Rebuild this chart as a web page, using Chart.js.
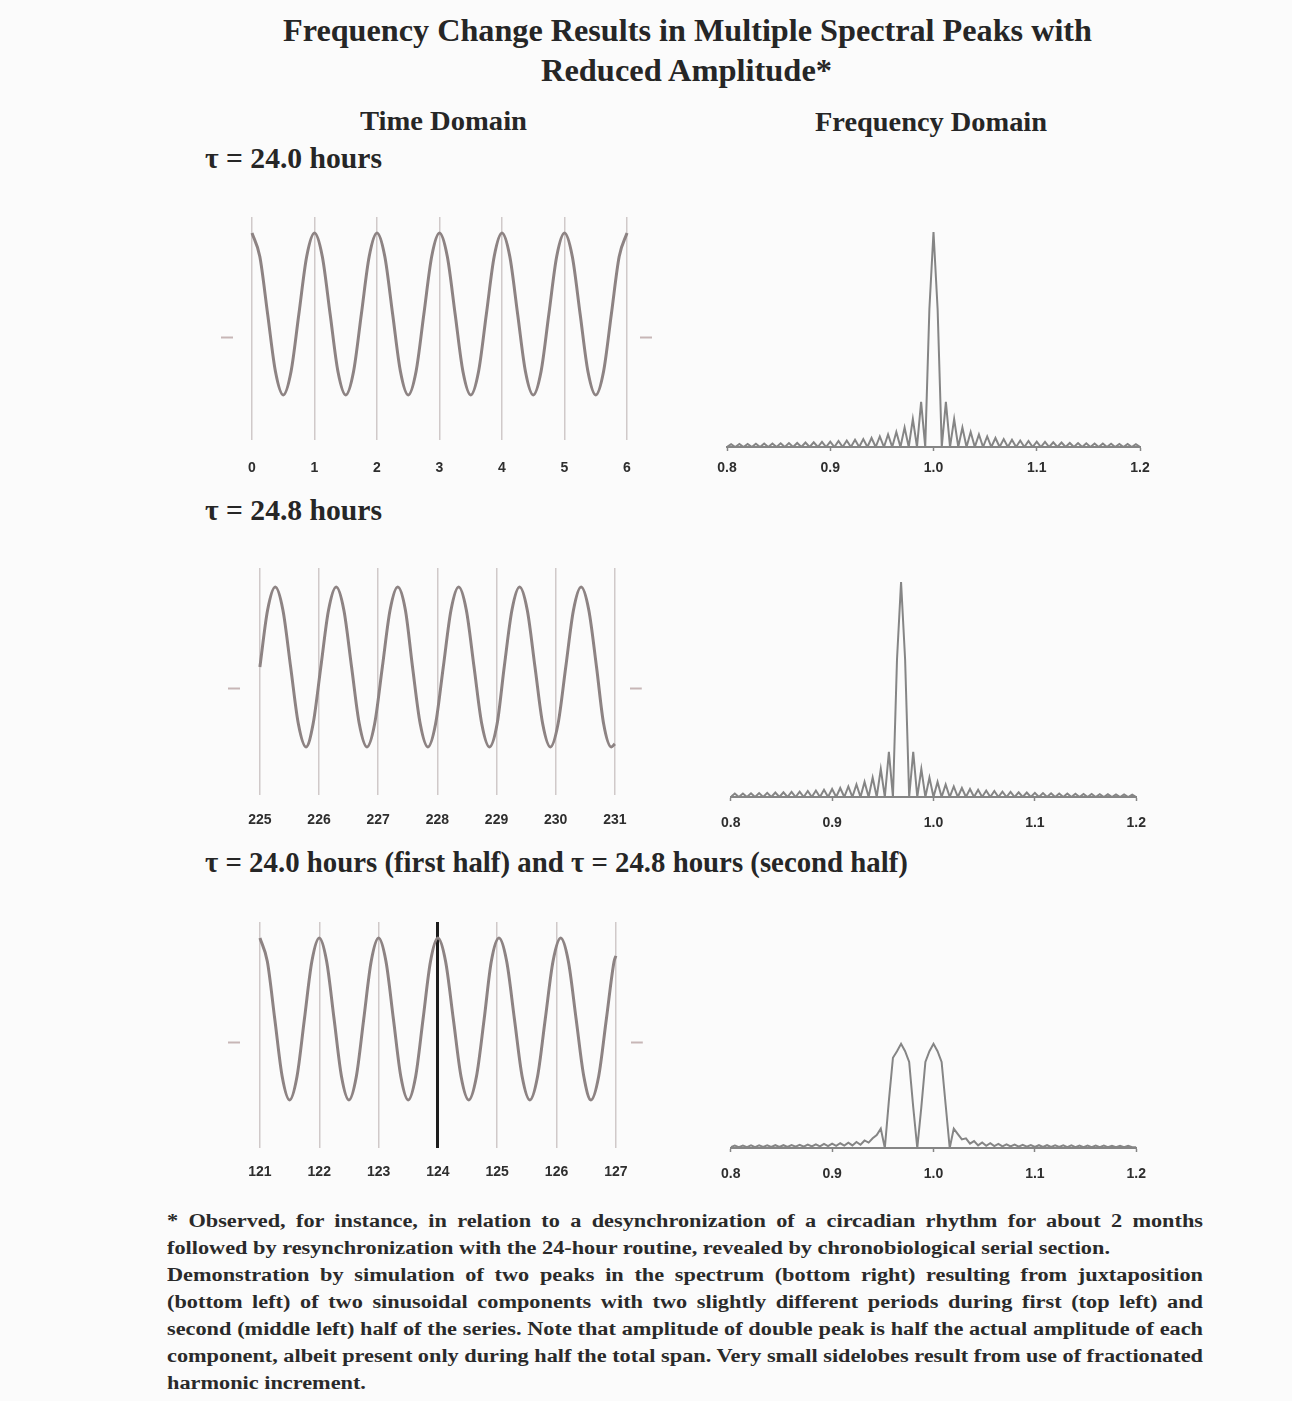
<!DOCTYPE html>
<html><head><meta charset="utf-8">
<script src="https://cdn.jsdelivr.net/npm/chart.js@4.4.1/dist/chart.umd.min.js"></script>
<style>
html,body{margin:0;padding:0;background:#fbfbfb;}
body{width:1292px;height:1401px;position:relative;overflow:hidden;font-family:"Liberation Serif","Times New Roman",Tinos,serif;color:#262626;}
.t{position:absolute;white-space:nowrap;font-weight:bold;font-family:"Liberation Serif","Times New Roman",serif;}
canvas{position:absolute;}
.fn{position:absolute;left:167px;font-size:18px;line-height:27px;font-weight:bold;white-space:nowrap;color:#2a2a2a;font-family:"Liberation Serif","Times New Roman",serif;}
</style></head><body>
<div class="t" data-w="809" data-cx="687.5" style="top:10px;font-size:32px;line-height:40px;">Frequency Change Results in Multiple Spectral Peaks with</div>
<div class="t" data-w="291" data-cx="686.5" style="top:50px;font-size:32px;line-height:40px;">Reduced Amplitude*</div>
<div class="t" data-w="167" data-cx="443.5" style="top:104px;font-size:28px;line-height:34px;">Time Domain</div>
<div class="t" data-w="232" data-cx="931" style="top:105px;font-size:28px;line-height:34px;">Frequency Domain</div>
<div class="t" data-w="177" style="left:205px;top:141px;font-size:29px;line-height:34px;">τ = 24.0 hours</div>
<div class="t" data-w="177" style="left:205px;top:493px;font-size:29px;line-height:34px;">τ = 24.8 hours</div>
<div class="t" data-w="703" style="left:205px;top:845px;font-size:29px;line-height:34px;">τ = 24.0 hours (first half) and τ = 24.8 hours (second half)</div>

<canvas id="time1"></canvas>
<canvas id="freq1"></canvas>
<canvas id="time2"></canvas>
<canvas id="freq2"></canvas>
<canvas id="time3"></canvas>
<canvas id="freq3"></canvas>

<div class="fn" data-j="1" style="top:1208px;">* Observed, for instance, in relation to a desynchronization of a circadian rhythm for about 2 months</div>
<div class="fn" data-ref="943" style="top:1235px;">followed by resynchronization with the 24-hour routine, revealed by chronobiological serial section.</div>
<div class="fn" data-j="1" style="top:1262px;">Demonstration by simulation of two peaks in the spectrum (bottom right) resulting from juxtaposition</div>
<div class="fn" data-j="1" style="top:1289px;">(bottom left) of two sinusoidal components with two slightly different periods during first (top left) and</div>
<div class="fn" data-j="1" style="top:1316px;">second (middle left) half of the series. Note that amplitude of double peak is half the actual amplitude of each</div>
<div class="fn" data-j="1" style="top:1343px;">component, albeit present only during half the total span. Very small sidelobes result from use of fractionated</div>
<div class="fn" style="top:1370px;">harmonic increment.</div>

<script>
// ---------------- DATA ----------------
// Time domain, tau = 24.0 h (days 0-6)
const day24Times = [0,0.125,0.25,0.375,0.5,0.625,0.75,0.875,
  1,1.125,1.25,1.375,1.5,1.625,1.75,1.875,
  2,2.125,2.25,2.375,2.5,2.625,2.75,2.875,
  3,3.125,3.25,3.375,3.5,3.625,3.75,3.875,
  4,4.125,4.25,4.375,4.5,4.625,4.75,4.875,
  5,5.125,5.25,5.375,5.5,5.625,5.75,5.875,
  6];
const day24Values = [1,0.71,0,-0.71,-1,-0.71,0,0.71,
  1,0.71,0,-0.71,-1,-0.71,0,0.71,
  1,0.71,0,-0.71,-1,-0.71,0,0.71,
  1,0.71,0,-0.71,-1,-0.71,0,0.71,
  1,0.71,0,-0.71,-1,-0.71,0,0.71,
  1,0.71,0,-0.71,-1,-0.71,0,0.71,
  1];
const day24Ticks = [0,1,2,3,4,5,6];

// Time domain, tau = 24.8 h (days 225-231)
const day248Times = [225.00,225.13,225.26,225.39,225.52,225.65,225.78,225.90,
  226.03,226.16,226.29,226.42,226.55,226.68,226.81,226.94,
  227.07,227.20,227.33,227.46,227.58,227.71,227.84,227.97,
  228.10,228.23,228.36,228.49,228.62,228.75,228.88,229.01,
  229.13,229.26,229.39,229.52,229.65,229.78,229.91,230.04,
  230.17,230.30,230.43,230.56,230.69,230.81,230.94,231.00];
const day248Values = [0,0.71,1,0.71,0,-0.71,-1,-0.71,
  0,0.71,1,0.71,0,-0.71,-1,-0.71,
  0,0.71,1,0.71,0,-0.71,-1,-0.71,
  0,0.71,1,0.71,0,-0.71,-1,-0.71,
  0,0.71,1,0.71,0,-0.71,-1,-0.71,
  0,0.71,1,0.71,0,-0.71,-1,-0.96];
const day248Ticks = [225,226,227,228,229,230,231];

// Time domain, 24.0 h first half, 24.8 h second half (days 121-127)
const mixedTimes = [121,121.125,121.25,121.375,121.5,121.625,121.75,121.875,
  122,122.125,122.25,122.375,122.5,122.625,122.75,122.875,
  123,123.125,123.25,123.375,123.5,123.625,123.75,123.875,
  124,124.13,124.26,124.39,124.52,124.65,124.78,124.90,
  125.03,125.16,125.29,125.42,125.55,125.68,125.81,125.94,
  126.07,126.20,126.33,126.46,126.58,126.71,126.84,126.97,127.00];
const mixedValues = [1,0.71,0,-0.71,-1,-0.71,0,0.71,
  1,0.71,0,-0.71,-1,-0.71,0,0.71,
  1,0.71,0,-0.71,-1,-0.71,0,0.71,
  1,0.71,0,-0.71,-1,-0.71,0,0.71,
  1,0.71,0,-0.71,-1,-0.71,0,0.71,
  1,0.71,0,-0.71,-1,-0.71,0,0.71,0.78];
const mixedTicks = [121,122,123,124,125,126,127];
const splitDay = 124;

// Frequency domain (cycles/day)
const freqGrid = [0.800,0.804,0.808,0.812,0.816,0.820,0.824,0.828,0.832,0.836,
  0.840,0.844,0.848,0.852,0.856,0.860,0.864,0.868,0.872,0.876,
  0.880,0.884,0.888,0.892,0.896,0.900,0.904,0.908,0.912,0.916,
  0.920,0.924,0.928,0.932,0.936,0.940,0.944,0.948,0.952,0.956,
  0.960,0.964,0.968,0.972,0.976,0.980,0.984,0.988,0.992,0.996,
  1.000,1.004,1.008,1.012,1.016,1.020,1.024,1.028,1.032,1.036,
  1.040,1.044,1.048,1.052,1.056,1.060,1.064,1.068,1.072,1.076,
  1.080,1.084,1.088,1.092,1.096,1.100,1.104,1.108,1.112,1.116,
  1.120,1.124,1.128,1.132,1.136,1.140,1.144,1.148,1.152,1.156,
  1.160,1.164,1.168,1.172,1.176,1.180,1.184,1.188,1.192,1.196,
  1.200];
const freqTicks = [0.8,0.9,1.0,1.1,1.2];
const freqTickLabels = ['0.8','0.9','1.0','1.1','1.2'];

const spectrum24 = [0,0.013,0,0.014,0,0.014,0,0.015,0,0.016,
  0,0.016,0,0.017,0,0.018,0,0.019,0,0.021,
  0,0.022,0,0.024,0,0.025,0,0.028,0,0.03,
  0,0.034,0,0.037,0,0.042,0,0.049,0,0.058,
  0,0.07,0,0.09,0,0.13,0,0.21,0,0.64,
  1,0.64,0,0.21,0,0.13,0,0.09,0,0.07,
  0,0.058,0,0.049,0,0.042,0,0.037,0,0.034,
  0,0.03,0,0.028,0,0.025,0,0.024,0,0.022,
  0,0.021,0,0.019,0,0.018,0,0.017,0,0.016,
  0,0.016,0,0.015,0,0.014,0,0.014,0,0.013,
  0];
const spectrum248 = [0,0.016,0,0.016,0,0.017,0,0.018,0,0.019,
  0,0.021,0,0.022,0,0.024,0,0.025,0,0.028,
  0,0.03,0,0.034,0,0.037,0,0.042,0,0.049,
  0,0.058,0,0.07,0,0.09,0,0.13,0,0.21,
  0,0.64,1,0.64,0,0.21,0,0.13,0,0.09,
  0,0.07,0,0.058,0,0.049,0,0.042,0,0.037,
  0,0.034,0,0.03,0,0.028,0,0.025,0,0.024,
  0,0.022,0,0.021,0,0.019,0,0.018,0,0.017,
  0,0.016,0,0.016,0,0.015,0,0.014,0,0.014,
  0,0.013,0,0.0125,0,0.012,0,0.0116,0,0.011,
  0];
const spectrumMixed = [0.004,0.011,0.004,0.011,0.004,0.012,0.004,0.012,0.005,0.012,
  0.005,0.013,0.005,0.013,0.005,0.014,0.006,0.015,0.006,0.016,
  0.007,0.017,0.008,0.019,0.009,0.02,0.01,0.022,0.011,0.025,
  0.012,0.028,0.015,0.035,0.025,0.045,0.06,0.09,0,0.22,
  0.42,0.45,0.485,0.45,0.40,0.19,0,0.19,0.40,0.45,
  0.485,0.45,0.40,0.2,0,0.09,0.065,0.04,0.045,0.02,
  0.032,0.012,0.026,0.01,0.022,0.009,0.019,0.008,0.017,0.007,
  0.016,0.006,0.015,0.006,0.014,0.005,0.013,0.005,0.013,0.005,
  0.012,0.005,0.012,0.004,0.012,0.004,0.011,0.004,0.011,0.004,
  0.011,0.004,0.011,0.004,0.01,0.004,0.01,0.004,0.01,0.004,
  0.004];

// ---------------- STYLE / LAYOUT ----------------
const GRID = 'rgba(165,152,152,0.5)';
const CURVE = '#8d8383';
const SPEC = '#858585';
const LABEL = '#2e2e2e';
const tickFont = {family:"'Liberation Sans', Arial, sans-serif", size:14, weight:'bold'};

function place(cv, left, top, w, h){
  cv.width = w; cv.height = h;
  cv.style.left = left + 'px'; cv.style.top = top + 'px';
  cv.style.width = w + 'px'; cv.style.height = h + 'px';
}

function makeTime(id, area, xr, yr, tickY, ticks, pad, times, values, split){
  const cv = document.getElementById(id);
  place(cv, area.l - 12, area.t - 2, area.r - area.l + 24, 2 + area.b - area.t + 40);
  const isSplit = c => split !== undefined && c.tick && c.tick.value === split;
  const yAxis = pos => ({
    type:'linear', position:pos, min:yr[0], max:yr[1],
    afterBuildTicks: a => { a.ticks = [{value: tickY}]; },
    afterFit: s => { s.width = 12; },
    ticks:{display:false},
    grid:{drawOnChartArea:false, drawTicks:true, tickLength:12, tickColor:'#c7b6b6', tickWidth:2},
    border:{display:false}
  });
  new Chart(cv, {
    type:'line',
    data:{datasets:[{
      data: times.map((t,i) => ({x:t, y:values[i]})),
      borderColor:CURVE, borderWidth:3, pointRadius:0,
      cubicInterpolationMode:'monotone', fill:false
    }]},
    options:{
      responsive:false, animation:false, devicePixelRatio:1,
      layout:{padding:{top:2,left:0,right:0,bottom:0}},
      plugins:{legend:{display:false}, tooltip:{enabled:false}},
      scales:{
        x:{type:'linear', min:xr[0], max:xr[1],
          afterBuildTicks: a => { a.ticks = ticks.map(v => ({value:v})); },
          afterFit: s => { s.height = 40; },
          ticks:{autoSkip:false, maxRotation:0, padding:pad, color:LABEL, font:tickFont,
                 callback:(v,i) => String(ticks[i])},
          grid:{drawTicks:false,
                color: c => isSplit(c) ? '#1c1c1c' : GRID,
                lineWidth: c => isSplit(c) ? 3 : 1.5},
          border:{display:false}},
        y: yAxis('left'),
        y2: yAxis('right')
      }
    }
  });
}

function makeFreq(id, area, values, pad){
  const cv = document.getElementById(id);
  place(cv, area.l - 20, area.t - 2, area.r - area.l + 40, 2 + area.b - area.t + 40);
  new Chart(cv, {
    type:'line',
    data:{datasets:[{
      data: freqGrid.map((f,i) => ({x:f, y:values[i]})),
      borderColor:SPEC, borderWidth:2, pointRadius:0, tension:0, fill:false
    }]},
    options:{
      responsive:false, animation:false, devicePixelRatio:1,
      layout:{padding:{top:2,left:20,right:20,bottom:0}},
      plugins:{legend:{display:false}, tooltip:{enabled:false}},
      scales:{
        x:{type:'linear', min:0.8, max:1.2,
          afterBuildTicks: a => { a.ticks = freqTicks.map(v => ({value:v})); },
          afterFit: s => { s.height = 40; },
          ticks:{autoSkip:false, maxRotation:0, padding:pad, color:LABEL, font:tickFont,
                 callback:(v,i) => freqTickLabels[i]},
          grid:{drawOnChartArea:false, drawTicks:true, tickLength:4, tickColor:SPEC, tickWidth:1.5},
          border:{display:true, color:SPEC, width:2}},
        y:{display:false, min:0, max:1.07}
      }
    }
  });
}

makeTime('time1', {l:233,r:640,t:217,b:440}, [-0.304,6.208], [-1.556,1.198], -0.284, day24Ticks, 20, day24Times, day24Values);
makeTime('time2', {l:240,r:632,t:568,b:795}, [224.664,231.252], [-1.6,1.2375], -0.275, day248Ticks, 17, day248Times, day248Values);
makeTime('time3', {l:240,r:632,t:922,b:1148}, [120.664,127.252], [-1.593,1.198], -0.284, mixedTicks, 16, mixedTimes, mixedValues, splitDay);

makeFreq('freq1', {l:727,r:1140,t:217,b:447}, spectrum24, 9);
makeFreq('freq2', {l:727,r:1140,t:567,b:797}, spectrum248, 14);
makeFreq('freq3', {l:727,r:1140,t:918,b:1148}, spectrumMixed, 14);

// ---------------- TEXT FITTING ----------------
document.querySelectorAll('[data-w]').forEach(el => {
  const w = +el.dataset.w, nat = el.getBoundingClientRect().width;
  el.style.transformOrigin = '0 50%';
  el.style.transform = 'scaleX(' + (w/nat).toFixed(4) + ')';
  if (el.dataset.cx) el.style.left = (+el.dataset.cx - w/2) + 'px';
});
(function(){
  const lines = [...document.querySelectorAll('.fn')];
  const ref = lines.find(l => l.dataset.ref);
  const s = +ref.dataset.ref / ref.getBoundingClientRect().width;
  lines.forEach(l => {
    if (l.dataset.j) {
      const nat = l.getBoundingClientRect().width;
      const n = (l.textContent.match(/ /g) || []).length;
      l.style.wordSpacing = ((1036/s - nat)/n).toFixed(3) + 'px';
    }
    l.style.transformOrigin = '0 50%';
    l.style.transform = 'scaleX(' + s.toFixed(4) + ')';
  });
})();
</script>
</body></html>
